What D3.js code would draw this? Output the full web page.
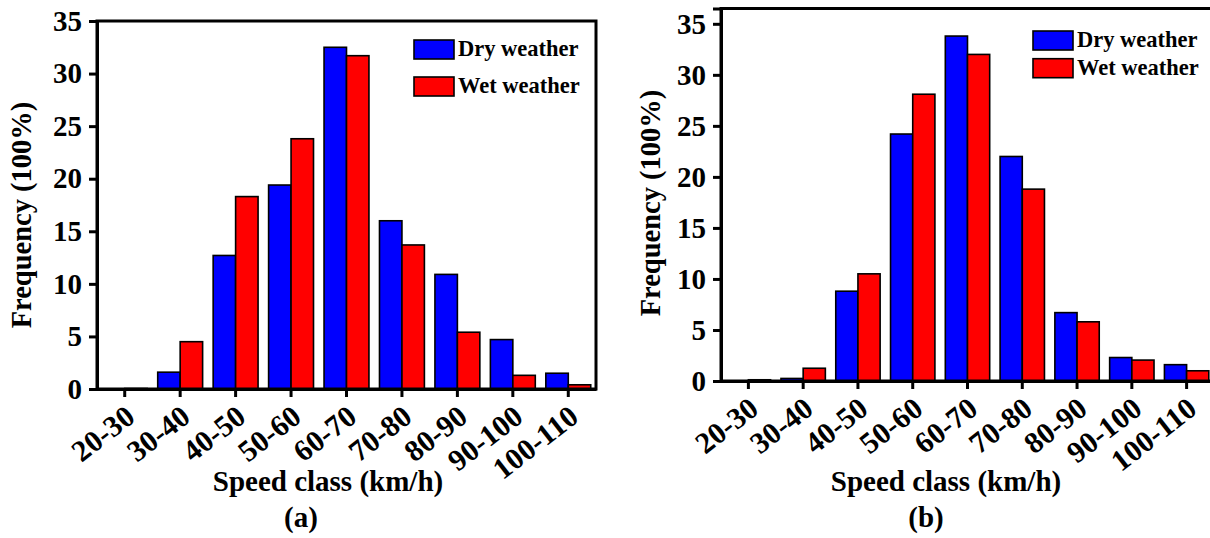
<!DOCTYPE html>
<html>
<head>
<meta charset="utf-8">
<script src="https://cdn.jsdelivr.net/npm/d3@7"></script>
<style>
  body { margin: 0; background: #fff; }
  text { font-family: "Liberation Serif", "Times New Roman", serif; font-weight: bold; fill: #000; }
</style>
</head>
<body>
<svg id="chart" width="1210" height="538"></svg>
<script>
// speed classes (km/h)
const speedClasses = ["20-30", "30-40", "40-50", "50-60", "60-70", "70-80", "80-90", "90-100", "100-110"];
const yTicks = [0, 5, 10, 15, 20, 25, 30, 35];

// panel (a)
const dryA = [0, 1.6, 12.7, 19.4, 32.5, 16.0, 10.9, 4.7, 1.5];
const wetA = [0.05, 4.5, 18.3, 23.8, 31.7, 13.7, 5.4, 1.3, 0.4];

// panel (b)
const dryB = [0, 0.25, 8.8, 24.2, 33.8, 22.0, 6.7, 2.3, 1.6];
const wetB = [0.12, 1.25, 10.5, 28.1, 32.0, 18.8, 5.8, 2.05, 1.0];

const seriesNames = ["Dry weather", "Wet weather"];
const colors = ["#0000ff", "#ff0000"];

const svg = d3.select("#chart");

function styleText(sel, size) {
  sel.attr("font-size", size)
    .attr("font-family", "Liberation Serif, Times New Roman, serif")
    .attr("font-weight", "bold")
    .attr("fill", "#000");
}

function drawPanel(cfg) {
  const g = svg.append("g");

  const x = d3.scaleBand()
    .domain(speedClasses)
    .range([cfg.left, cfg.right])
    .paddingInner(0.19)
    .paddingOuter(0.095);

  const xSub = d3.scaleBand()
    .domain([0, 1])
    .range([0, x.bandwidth()]);

  const y = d3.scaleLinear()
    .domain([0, cfg.yMax])
    .range([cfg.bottom, cfg.top]);

  const rows = speedClasses.map((c, i) => ({ c, vals: [cfg.dry[i], cfg.wet[i]] }));

  // bars
  g.selectAll("g.grp")
    .data(rows)
    .enter().append("g")
    .attr("transform", d => `translate(${x(d.c)},0)`)
    .selectAll("rect")
    .data(d => d.vals.map((v, k) => ({ v, k })))
    .enter().append("rect")
    .attr("x", d => xSub(d.k))
    .attr("width", xSub.bandwidth())
    .attr("y", d => y(d.v))
    .attr("height", d => y(0) - y(d.v))
    .attr("fill", d => colors[d.k])
    .attr("stroke", "#000")
    .attr("stroke-width", 1.6);

  // frame
  g.append("rect")
    .attr("x", cfg.left)
    .attr("y", cfg.top)
    .attr("width", cfg.right - cfg.left)
    .attr("height", cfg.bottom - cfg.top)
    .attr("fill", "none")
    .attr("stroke", "#000")
    .attr("stroke-width", 3);

  // y axis
  const yAxis = g.append("g")
    .attr("transform", `translate(${cfg.left},0)`)
    .call(d3.axisLeft(y).tickValues(yTicks).tickSize(8).tickPadding(7));
  yAxis.select(".domain").attr("stroke-width", 3);
  yAxis.selectAll(".tick line").attr("stroke-width", 3);
  styleText(yAxis.selectAll(".tick text"), 29);

  // x axis
  const xAxis = g.append("g")
    .attr("transform", `translate(0,${cfg.bottom})`)
    .call(d3.axisBottom(x).tickSize(8).tickSizeOuter(0));
  xAxis.select(".domain").attr("stroke-width", 3);
  xAxis.selectAll(".tick line").attr("stroke-width", 3);
  styleText(xAxis.selectAll(".tick text"), 30);
  xAxis.selectAll(".tick text")
    .attr("text-anchor", "end")
    .attr("dy", null)
    .attr("y", null)
    .attr("transform", "translate(12,31) rotate(-38)");

  // axis titles
  g.append("text")
    .attr("transform", `translate(${cfg.yTitleX},${cfg.yTitleY}) rotate(-90)`)
    .attr("text-anchor", "middle")
    .attr("font-size", 28.5)
    .text("Frequency (100%)");

  g.append("text")
    .attr("x", cfg.xTitleX)
    .attr("y", 491)
    .attr("text-anchor", "middle")
    .attr("font-size", 29)
    .text("Speed class (km/h)");

  g.append("text")
    .attr("x", cfg.capX)
    .attr("y", 527)
    .attr("text-anchor", "middle")
    .attr("font-size", 29)
    .text(cfg.caption);

  // legend
  const leg = g.append("g")
    .attr("transform", `translate(${cfg.legX},${cfg.legY})`);
  seriesNames.forEach((name, k) => {
    leg.append("rect")
      .attr("x", 0)
      .attr("y", k * cfg.legGap)
      .attr("width", 40)
      .attr("height", 19)
      .attr("fill", colors[k])
      .attr("stroke", "#000")
      .attr("stroke-width", 1.6);
    leg.append("text")
      .attr("x", 44)
      .attr("y", k * cfg.legGap + 16)
      .attr("font-size", 22.5)
      .text(name);
  });
}

drawPanel({
  left: 97, right: 596, top: 21, bottom: 389, yMax: 35,
  dry: dryA, wet: wetA,
  yTitleX: 31, yTitleY: 215, xTitleX: 328, capX: 301, caption: "(a)",
  legX: 414, legY: 40, legGap: 37
});

drawPanel({
  left: 721, right: 1214, top: 8.5, bottom: 381, yMax: 36.5,
  dry: dryB, wet: wetB,
  yTitleX: 660, yTitleY: 203, xTitleX: 946, capX: 926, caption: "(b)",
  legX: 1033, legY: 31, legGap: 27.7
});
</script>
</body>
</html>
